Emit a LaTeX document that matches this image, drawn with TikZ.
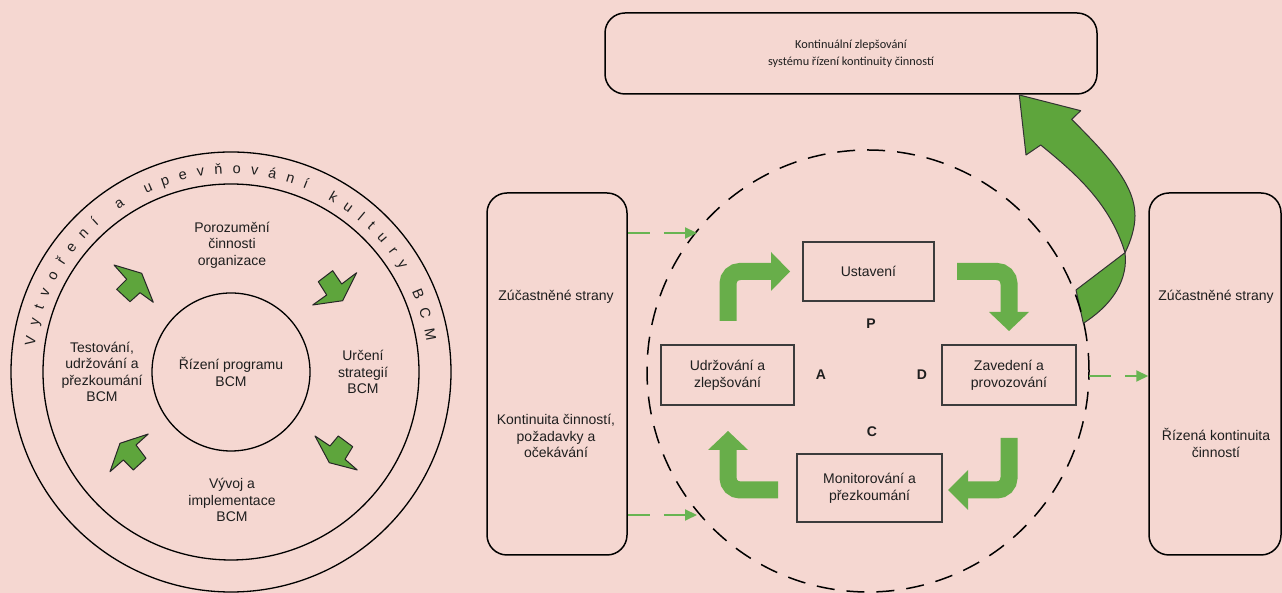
\documentclass[tikz,border=0pt]{standalone}
\usepackage{fontspec}
\setmainfont{Liberation Sans}
\newfontfamily\carlitofont{Carlito}
\usetikzlibrary{decorations.text,arrows.meta,calc}
\definecolor{bgpink}{RGB}{245,215,209}
\definecolor{leafgreen}{RGB}{94,165,60}
\definecolor{pdcagreen}{RGB}{104,174,74}
\definecolor{dashgreen}{RGB}{104,180,82}
\definecolor{boxgray}{RGB}{60,60,60}
\definecolor{inkdark}{RGB}{30,30,30}
\begin{document}
\begin{tikzpicture}[x=1pt,y=1pt,
  txt/.style={align=center,font=\fontsize{14}{16.5}\selectfont,inner sep=0pt,text=inkdark},
  ringline/.style={draw=black,line width=1.3pt},
  leafarrow/.style={fill=leafgreen,draw=black!85,line width=1pt,line join=round},
  pbox/.style={draw=boxgray,line width=1.4pt,inner sep=0pt,align=center,font=\fontsize{14}{16.7}\selectfont,text=inkdark},
  sidebox/.style={draw=black,line width=1.5pt,rounded corners=20pt,minimum width=140pt,minimum height=362pt},
  letter/.style={font=\bfseries\fontsize{14}{14}\selectfont,inner sep=0pt,text=inkdark},
  thickshaft/.style={draw=pdcagreen,line width=17pt,rounded corners=12pt},
  thickhead/.style={fill=pdcagreen},
  dasharrow/.style={draw=dashgreen,line width=2pt,dash pattern=on 22pt off 14pt,-{Triangle[length=12pt,width=11pt]}},
  bigarrow/.style={fill=leafgreen,draw=black!80,line width=1pt,line join=round}
]
\fill[bgpink] (0,0) rectangle (1282,593);
\useasboundingbox (0,0) rectangle (1282,593);

% ---------------- left diagram ----------------
\coordinate (c1) at (231,221);
\node[circle,ringline,minimum size=440pt,inner sep=0pt] (outer) at (c1) {};
\node[circle,ringline,minimum size=376pt,inner sep=0pt] (middle) at (c1) {};
\node[circle,ringline,minimum size=158pt,inner sep=0pt,txt] (inner) at (c1) {Řízení programu\\BCM};

\path[decorate,decoration={text along path,
  text={|\fontsize{14.5}{14.5}\selectfont\color{inkdark}|Vytvoření a upevňování kultury BCM},
  text align={fit to path}}]
  (c1) ++(172.5:198pt) arc[start angle=172.5,end angle=9,radius=198pt];

\node[txt] (poroz) at (232,348) {Porozumění\\činnosti\\organizace};
\node[txt] (urceni) at (363,221) {Určení\\strategií\\BCM};
\node[txt] (vyvoj) at (232,93) {Vývoj a\\implementace\\BCM};
\node[txt] (testov) at (102,221) {Testování,\\udržování a\\přezkoumání\\BCM};

\draw[leafarrow] (114,328) -- (141.7,319.7) -- (153.3,290.7) -- (140,300.3) -- (130,291.3) -- (116.7,303.7) -- (126.7,313.7) -- cycle;
\draw[leafarrow] (318.3,311.3) -- (332.7,322.3) -- (341.7,309) -- (356.7,320.3) -- (342.7,292.3) -- (312.7,288) -- (326.7,298) -- cycle;
\draw[leafarrow] (315,157) -- (330,147) -- (338.3,157) -- (352.7,146.3) -- (345,133.7) -- (357.3,123) -- (329.3,130.3) -- cycle;
\draw[leafarrow] (148.3,159) -- (136,148) -- (146,134.7) -- (133.3,123) -- (123.3,133) -- (110,121.3) -- (120,149.7) -- cycle;

% ---------------- right diagram ----------------
\node[draw=black,line width=1.5pt,rounded corners=20pt,minimum width=492pt,minimum height=81pt,
  align=center,font=\carlitofont\fontsize{12.3}{17}\selectfont,text=inkdark] (topbox) at (851,539.5)
  {Kontinuální zlepšování\\systému řízení kontinuity činností};

\node[sidebox] (lbox) at (557,219) {};
\node[txt] (lboxt1) at (556,296) {Zúčastněné strany};
\node[txt] (lboxt2) at (556,157) {Kontinuita činností,\\požadavky a\\očekávání};

\node[sidebox,minimum width=132pt] (rbox) at (1215,219) {};
\node[txt] (rboxt1) at (1216,296) {Zúčastněné strany};
\node[txt] (rboxt2) at (1216,150) {Řízená kontinuita\\činností};

% big curved arrow
\coordinate (bp1) at (1076,303);
\coordinate (bp2) at (1083.3,269.7);
\coordinate (bx) at (1125,340.3);
\coordinate (bl) at (1040.7,448);
\coordinate (br) at (1071.7,473.7);
\coordinate (bhl) at (1026,438);
\coordinate (bhr) at (1080.7,482.3);
\coordinate (btip) at (1019.3,498);
\draw[bigarrow] (bp1) .. controls (1100,322) .. (bx) .. controls (1128,315) and (1115,290) .. (bp2) -- cycle;
\draw[bigarrow] (bx) .. controls (1131,352) and (1135,366) .. (1135,377)
  .. controls (1135,410) and (1105,440) .. (br) -- (bhr) -- (btip) -- (bhl) -- (bl)
  .. controls (1075,420) and (1110,390) .. (bx) -- cycle;

\node[circle,draw=black,line width=1.5pt,dash pattern=on 18pt off 12pt,minimum size=442pt,inner sep=0pt] (pdca) at (868,222) {};

\node[pbox,minimum width=131pt,minimum height=59pt] (ust) at (868.5,321.5) {Ustavení};
\node[pbox,minimum width=133pt,minimum height=60pt] (udr) at (727.5,218) {Udržování a\\zlepšování};
\node[pbox,minimum width=134pt,minimum height=60pt] (zav) at (1009,218) {Zavedení a\\provozování};
\node[pbox,minimum width=145pt,minimum height=68pt] (mon) at (869.5,105) {Monitorování a\\přezkoumání};

\node[letter] (lp) at (871,269) {P};
\node[letter] (la) at (821,218) {A};
\node[letter] (ld) at (922,218) {D};
\node[letter] (lc) at (872,161) {C};

% thick PDCA arrows
\draw[thickshaft] (728,272) -- (728,321.5) -- (772,321.5);
\fill[thickhead] (771,341) -- (790,321.5) -- (771,302) -- cycle;
\draw[thickshaft] (957,321.5) -- (1009,321.5) -- (1009,280);
\fill[thickhead] (989,281) -- (1029,281) -- (1009,262) -- cycle;
\draw[thickshaft] (1009,155) -- (1009,103) -- (967,103);
\fill[thickhead] (968,123) -- (948,103) -- (968,83) -- cycle;
\draw[thickshaft] (778,103) -- (728,103) -- (728,144);
\fill[thickhead] (708,143) -- (728,162) -- (748,143) -- cycle;

% dashed connectors
\coordinate (la1) at (697,360);
\coordinate (la2) at (697,78);
\coordinate (ra0) at (1089,217);
\draw[dasharrow] (lbox.east |- la1) -- (la1);
\draw[dasharrow] (lbox.east |- la2) -- (la2);
\draw[dasharrow] (ra0) -- (rbox.west |- ra0);
\end{tikzpicture}
\end{document}
